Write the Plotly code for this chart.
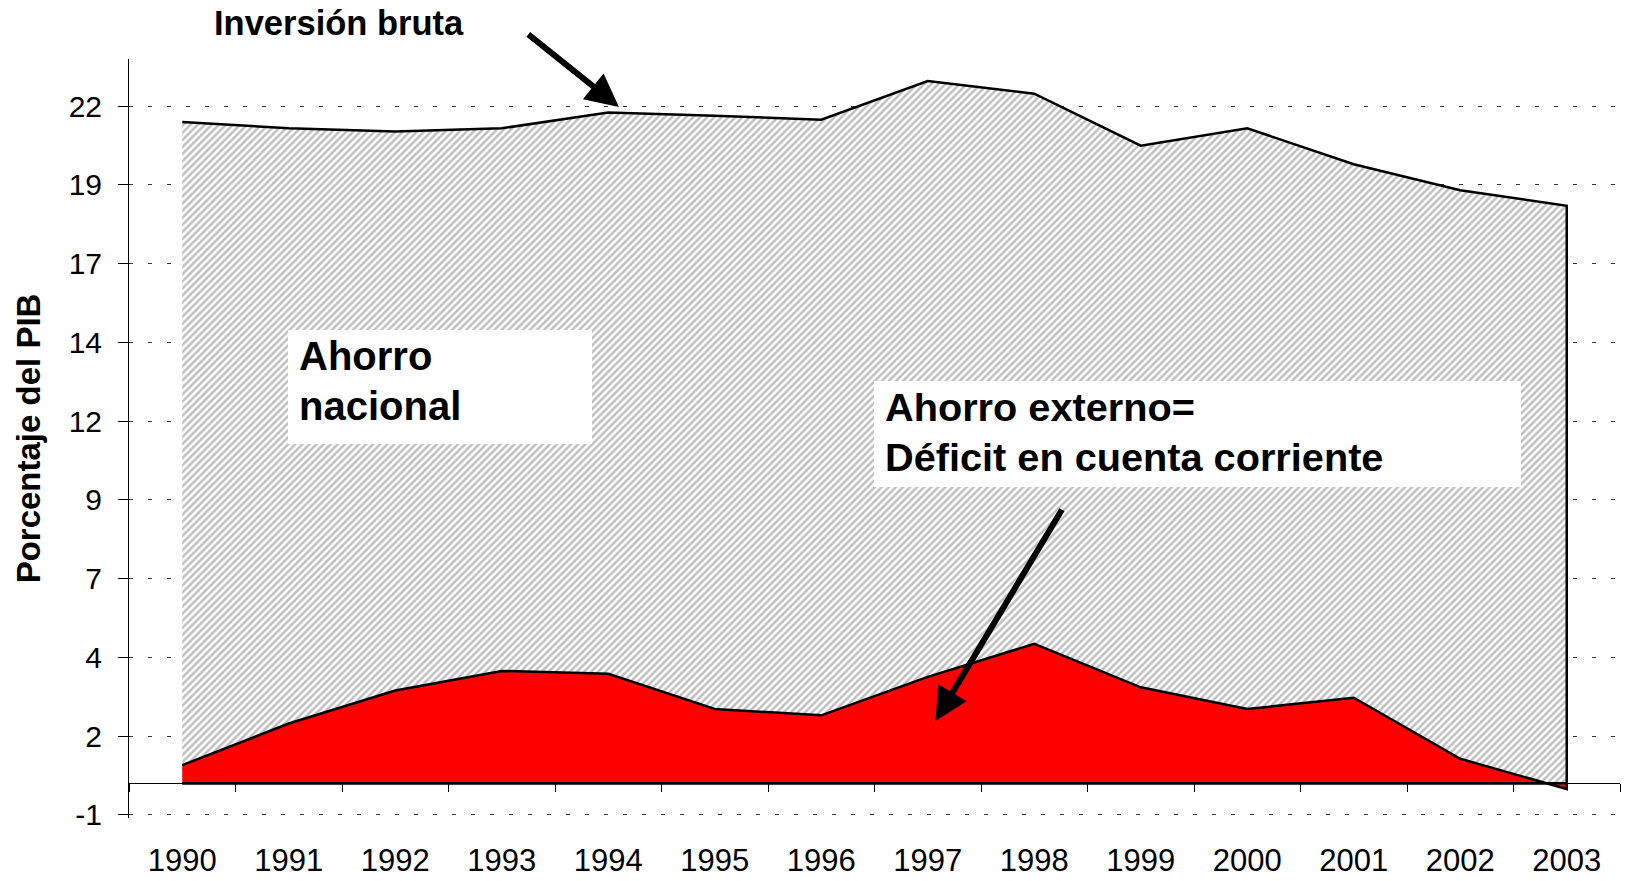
import plotly.graph_objects as go

# ---- data ----
years = ["1990", "1991", "1992", "1993", "1994", "1995", "1996",
         "1997", "1998", "1999", "2000", "2001", "2002", "2003"]
inversion_bruta = [21.0, 20.8, 20.7, 20.8, 21.3, 21.2, 21.07,
                   22.3, 21.9, 20.25, 20.8, 19.66, 18.83, 18.34]
ahorro_externo = [0.58, 1.9, 2.95, 3.57, 3.48, 2.36, 2.16,
                  3.38, 4.43, 3.05, 2.36, 2.72, 0.78, -0.18]
y_tickvals = [-1, 1.5, 4, 6.5, 9, 11.5, 14, 16.5, 19, 21.5]
y_ticktext = ["-1", "2", "4", "7", "9", "12", "14", "17", "19", "22"]
Y_MIN, Y_MAX = -1.1, 23

W, H = 1626, 881
ML, MR, MT, MB = 129, 6, 59, 63
PW, PH = W - ML - MR, H - MT - MB


def px(x):
    return (x - ML) / PW


def py(y):
    return (H - MB - y) / PH


FONT = "Liberation Sans, Arial, sans-serif"

fig = go.Figure()

# Gray hatched area (inversión bruta), outlined polygon
fig.add_trace(go.Scatter(
    x=years + years[::-1],
    y=inversion_bruta + [0] * len(years),
    fill="toself",
    fillcolor="white",
    fillpattern=dict(shape="/", fgcolor="#808080", bgcolor="white",
                     size=5, solidity=0.5),
    line=dict(color="black", width=2.5),
    mode="lines",
    hoverinfo="skip",
    showlegend=False,
))

# Red area (ahorro externo)
fig.add_trace(go.Scatter(
    x=years + years[::-1],
    y=ahorro_externo + [0] * len(years),
    fill="toself",
    fillcolor="#FF0000",
    line=dict(color="black", width=2.5),
    mode="lines",
    hoverinfo="skip",
    showlegend=False,
))

fig.update_layout(
    width=W, height=H,
    margin=dict(l=ML, r=MR, t=MT, b=MB, autoexpand=False),
    paper_bgcolor="white",
    plot_bgcolor="white",
    font=dict(family=FONT, color="black", size=30),
    xaxis=dict(
        type="category",
        range=[-0.5, 13.5],
        anchor="free",
        position=(0 - Y_MIN) / (Y_MAX - Y_MIN),
        automargin=False,
        showline=True, linecolor="black", linewidth=1,
        showgrid=False, zeroline=False,
        tickson="boundaries",
        ticks="outside", ticklen=8, tickcolor="black", tickwidth=1,
        tickfont=dict(size=31, family=FONT),
        ticklabelstandoff=49,
    ),
    yaxis=dict(
        range=[Y_MIN, Y_MAX],
        automargin=False,
        tickmode="array",
        tickvals=y_tickvals,
        ticktext=y_ticktext,
        showline=True, linecolor="black", linewidth=1,
        ticks="outside", ticklen=10, tickcolor="black", tickwidth=1,
        showgrid=True, gridcolor="#333333", gridwidth=1,
        griddash="4px,15px",
        zeroline=False,
        tickfont=dict(size=30, family=FONT),
        ticklabelstandoff=10,
        title=dict(text="<b>Porcentaje del PIB</b>",
                   font=dict(size=33, family=FONT), standoff=18),
    ),
)

# white label boxes
fig.add_shape(type="rect", xref="paper", yref="paper", layer="above",
              x0=px(288), x1=px(592), y0=py(444), y1=py(330),
              fillcolor="white", line=dict(width=0))
fig.add_shape(type="rect", xref="paper", yref="paper", layer="above",
              x0=px(874), x1=px(1521), y0=py(487), y1=py(381),
              fillcolor="white", line=dict(width=0))


def label(text, x, y, size):
    return dict(text="<b>%s</b>" % text, xref="paper", yref="paper",
                x=px(x), y=py(y), xanchor="left", yanchor="middle",
                showarrow=False, font=dict(size=size, family=FONT))


annotations = [
    label("Inversión bruta", 212, 23, 34.5),
    label("Ahorro", 297, 356, 40),
    label("nacional", 297, 406, 40),
    label("Ahorro externo=", 883, 407, 39.7),
    label("Déficit en cuenta corriente", 883, 457, 39.7),
    dict(text="", xref="paper", yref="paper",
         x=px(619), y=py(107), ax=526.8 - 619, ay=33.2 - 107,
         showarrow=True, arrowhead=2, arrowsize=1.1, arrowwidth=6,
         arrowcolor="black", standoff=0),
    dict(text="", xref="paper", yref="paper",
         x=px(935.5), y=py(721), ax=1062.8 - 935.5, ay=508.2 - 721,
         showarrow=True, arrowhead=2, arrowsize=1.1, arrowwidth=6,
         arrowcolor="black", standoff=0),
]
fig.update_layout(annotations=annotations)

fig.write_html("out.html", config={"displayModeBar": False},
               post_script="document.body.style.margin='0';document.body.style.overflow='hidden';")
